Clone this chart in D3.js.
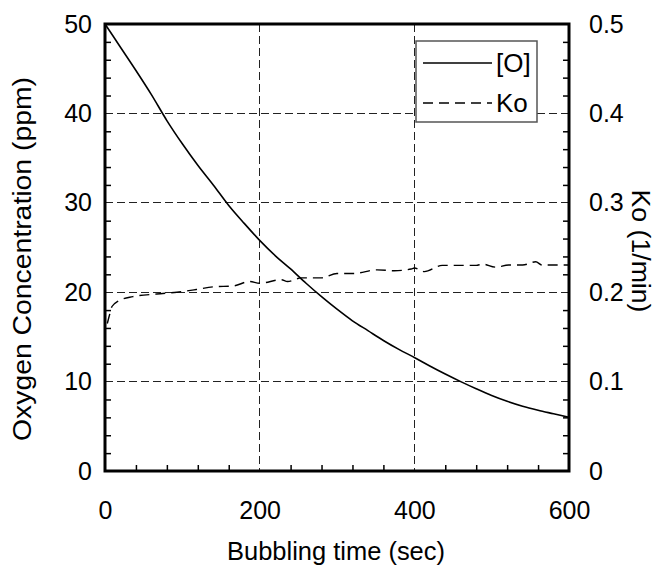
<!DOCTYPE html>
<html><head><meta charset="utf-8">
<script src="https://cdn.jsdelivr.net/npm/d3@7"></script>
<style>body{margin:0;background:#fff}svg{display:block}text{font-family:"Liberation Sans",Arial,sans-serif;fill:#000}</style>
</head><body><svg id="c" width="659" height="567"></svg>
<script>
const oTime = [0,20,40,60,80,100,120,140,160,180,200,220,240,260,280,300,320,340,360,380,400,420,440,460,480,500,520,540,560,580,600];
const oConc = [50,47.4,44.8,42.1,39.2,36.6,34.2,32.0,29.7,27.7,25.8,24.1,22.6,21.0,19.5,18.1,16.8,15.7,14.6,13.6,12.7,11.75,10.85,10.0,9.2,8.45,7.8,7.25,6.8,6.4,6.0];
const koTime = [3,6,9,17,36,67,93,118,140,166,187,200,228,236,254,280,300,322,352,374,396,400,413,436,480,488,505,522,540,557,565,600];
const koVal  = [0.165,0.175,0.184,0.19,0.195,0.198,0.2,0.203,0.206,0.207,0.212,0.21,0.214,0.212,0.216,0.216,0.221,0.221,0.225,0.224,0.226,0.227,0.223,0.23,0.23,0.2315,0.228,0.2304,0.2304,0.234,0.2304,0.2304];
const xTicks = [0,200,400,600];
const yTicks = [0,10,20,30,40,50];
const y2Ticks = [0,0.1,0.2,0.3,0.4,0.5];
const legendLabels = ["[O]","Ko"];

const svg = d3.select("#c");
const L=105,T=24,R=569,B=471;
const x = d3.scaleLinear().domain([0,600]).range([L,R]);
const y = d3.scaleLinear().domain([0,50]).range([B,T]);
const y2 = d3.scaleLinear().domain([0,0.5]).range([B,T]);

// grid
const g = svg.append("g").attr("stroke","#222").attr("stroke-width",1).attr("stroke-dasharray","8,4").attr("shape-rendering","crispEdges");
yTicks.filter(v=>v>0&&v<50).forEach(v=>g.append("line").attr("x1",L).attr("x2",R).attr("y1",y(v)).attr("y2",y(v)));
xTicks.filter(v=>v>0&&v<600).forEach(v=>g.append("line").attr("x1",x(v)).attr("x2",x(v)).attr("y1",T).attr("y2",B));

// minor ticks via axes
const minorY = d3.range(0,50.001,2).filter(v=>v%10!==0);
const minorY2 = d3.range(0,0.5001,0.02).map(v=>+v.toFixed(2)).filter(v=>Math.round(v*100)%10!==0);
const minorX = d3.range(0,600.1,40).filter(v=>v%200!==0);
function styleAx(sel){sel.select(".domain").remove();sel.selectAll("line").attr("stroke","#000").attr("stroke-width",1.5);sel.selectAll("text").remove();}
svg.append("g").attr("transform",`translate(${L},0)`).call(d3.axisRight(y).tickValues(minorY).tickSize(6)).call(styleAx);
svg.append("g").attr("transform",`translate(${R},0)`).call(d3.axisLeft(y2).tickValues(minorY2).tickSize(6)).call(styleAx);
svg.append("g").attr("transform",`translate(0,${B})`).call(d3.axisTop(x).tickValues(minorX).tickSize(6)).call(styleAx);

// tick labels via axes
function lab(sel){sel.select(".domain").remove();sel.selectAll("line").remove();sel.selectAll("text").attr("font-size",25).attr("font-family","Liberation Sans, Arial, sans-serif").attr("fill","#000");}
svg.append("g").attr("transform",`translate(${L},0)`).call(d3.axisLeft(y).tickValues(yTicks).tickSize(0).tickPadding(13).tickFormat(d3.format("d"))).call(lab);
svg.append("g").attr("transform",`translate(${R},0)`).call(d3.axisRight(y2).tickValues(y2Ticks).tickSize(0).tickPadding(20).tickFormat(d=>d===0?"0":d3.format(".1f")(d))).call(lab);
svg.append("g").attr("transform",`translate(0,${B})`).call(d3.axisBottom(x).tickValues(xTicks).tickSize(0).tickPadding(30).tickFormat(d3.format("d"))).call(lab);

// lines
const lineO = d3.line().x((d,i)=>x(oTime[i])).y(d=>y(d)).curve(d3.curveMonotoneX);
svg.append("path").attr("d",lineO(oConc)).attr("fill","none").attr("stroke","#000").attr("stroke-width",1.6);
const lineK = d3.line().x((d,i)=>x(koTime[i])).y(d=>y2(d)).curve(d3.curveMonotoneX);
svg.append("path").attr("d",lineK(koVal)).attr("fill","none").attr("stroke","#000").attr("stroke-width",1.4).attr("stroke-dasharray","10,6");

// frame
svg.append("rect").attr("x",L).attr("y",T).attr("width",R-L).attr("height",B-T).attr("fill","none").attr("stroke","#000").attr("stroke-width",3);

// legend
const lg = svg.append("g");
lg.append("rect").attr("x",416).attr("y",41).attr("width",121).attr("height",81).attr("fill","#fff").attr("stroke","#555").attr("stroke-width",1.5);
lg.append("line").attr("x1",423).attr("x2",492).attr("y1",63).attr("y2",63).attr("stroke","#000").attr("stroke-width",1.6);
lg.append("line").attr("x1",423).attr("x2",492).attr("y1",103).attr("y2",103).attr("stroke","#000").attr("stroke-width",1.4).attr("stroke-dasharray","10,6");
lg.append("text").attr("x",496).attr("y",72).attr("font-size",26).text(legendLabels[0]);
lg.append("text").attr("x",496).attr("y",112).attr("font-size",26).text(legendLabels[1]);

// titles
svg.append("text").attr("x",336).attr("y",560).attr("text-anchor","middle").attr("font-size",25).attr("textLength",218).attr("lengthAdjust","spacingAndGlyphs").text("Bubbling time (sec)");
svg.append("text").attr("transform","translate(31,259) rotate(-90)").attr("text-anchor","middle").attr("font-size",26).attr("textLength",364).attr("lengthAdjust","spacingAndGlyphs").text("Oxygen Concentration (ppm)");
svg.append("text").attr("transform","translate(632,251) rotate(90)").attr("text-anchor","middle").attr("font-size",26).attr("textLength",123).attr("lengthAdjust","spacingAndGlyphs").text("Ko (1/min)");
</script></body></html>
